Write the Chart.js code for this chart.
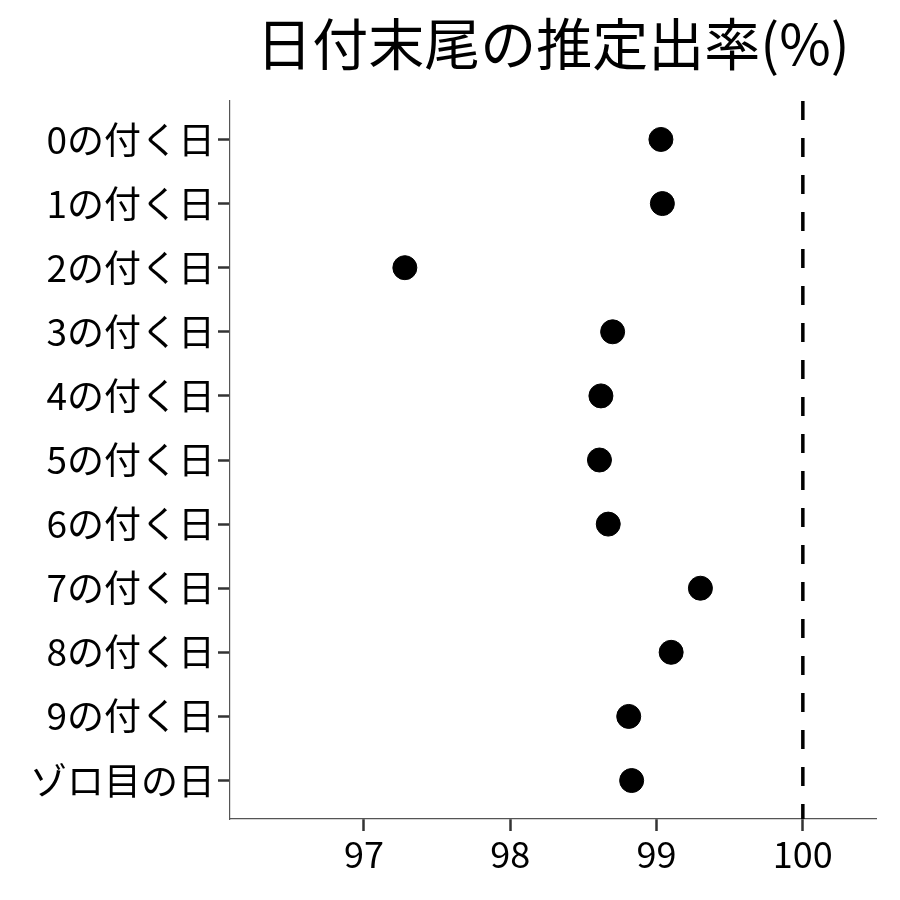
<!DOCTYPE html>
<html>
<head>
<meta charset="utf-8">
<script src="https://cdn.jsdelivr.net/npm/chart.js@4.4.1/dist/chart.umd.min.js"></script>
<style>
  html, body { margin: 0; padding: 0; background: #fff; }
  #wrap { width: 900px; height: 900px; }
</style>
</head>
<body>
<div id="wrap"><canvas id="chart" width="900" height="900"></canvas></div>
<script>
// 📋 data
const chartTitle = "日付末尾の推定出率(%)";
const categories = ["0の付く日", "1の付く日", "2の付く日", "3の付く日", "4の付く日",
  "5の付く日", "6の付く日", "7の付く日", "8の付く日", "9の付く日", "ゾロ目の日"];
const rates = [99.03, 99.04, 97.28, 98.70, 98.62, 98.61, 98.67, 99.30, 99.10, 98.81, 98.83];
const xTicks = [97, 98, 99, 100];
const refLine = 100;

const FONT = "'Noto Sans CJK JP', 'Noto Sans', sans-serif";

// 🖊 title over the plot panel
const titlePlugin = {
  id: "panelTitle",
  afterDraw(chart) {
    const { ctx, chartArea } = chart;
    ctx.save();
    ctx.font = `56px ${FONT}`;
    ctx.fillStyle = "#000";
    ctx.textAlign = "center";
    ctx.textBaseline = "middle";
    ctx.fillText(chartTitle, (chartArea.left + chartArea.right) / 2, 44);
    ctx.restore();
  }
};

const points = rates.map((v, i) => ({ x: v, y: i }));

new Chart(document.getElementById("chart"), {
  type: "scatter",
  data: {
    datasets: [
      {
        data: points,
        backgroundColor: "#000",
        borderColor: "#000",
        pointRadius: 12,
        pointHoverRadius: 12
      },
      {
        type: "line",
        data: [{ x: refLine, y: -0.6 }, { x: refLine, y: categories.length - 0.4 }],
        borderColor: "#000",
        borderWidth: 3.5,
        borderDash: [19, 18],
        pointRadius: 0,
        fill: false
      }
    ]
  },
  options: {
    responsive: false,
    animation: false,
    devicePixelRatio: 1,
    layout: { padding: { top: 101, right: 24, bottom: 0, left: 0 } },
    plugins: {
      legend: { display: false },
      tooltip: { enabled: false },
      title: { display: false }
    },
    scales: {
      x: {
        type: "linear",
        min: 96.085,
        max: 100.5,
        afterBuildTicks: s => { s.ticks = xTicks.map(v => ({ value: v })); },
        afterFit: s => { s.height = 81; },
        grid: {
          drawOnChartArea: false,
          tickLength: 12,
          tickWidth: 2.5,
          tickColor: "#333"
        },
        border: { color: "#555", width: 1.2 },
        ticks: {
          color: "#000",
          padding: 2,
          font: { family: FONT, size: 36 }
        }
      },
      y: {
        type: "linear",
        reverse: true,
        min: -0.6,
        max: categories.length - 0.4,
        afterBuildTicks: s => { s.ticks = categories.map((c, i) => ({ value: i })); },
        afterFit: s => { s.width = 230; },
        grid: {
          drawOnChartArea: false,
          tickLength: 12,
          tickWidth: 2.5,
          tickColor: "#333"
        },
        border: { color: "#555", width: 1.2 },
        ticks: {
          color: "#000",
          padding: 3,
          font: { family: FONT, size: 37 },
          callback: v => categories[v]
        }
      }
    }
  },
  plugins: [titlePlugin]
});
</script>
</body>
</html>
